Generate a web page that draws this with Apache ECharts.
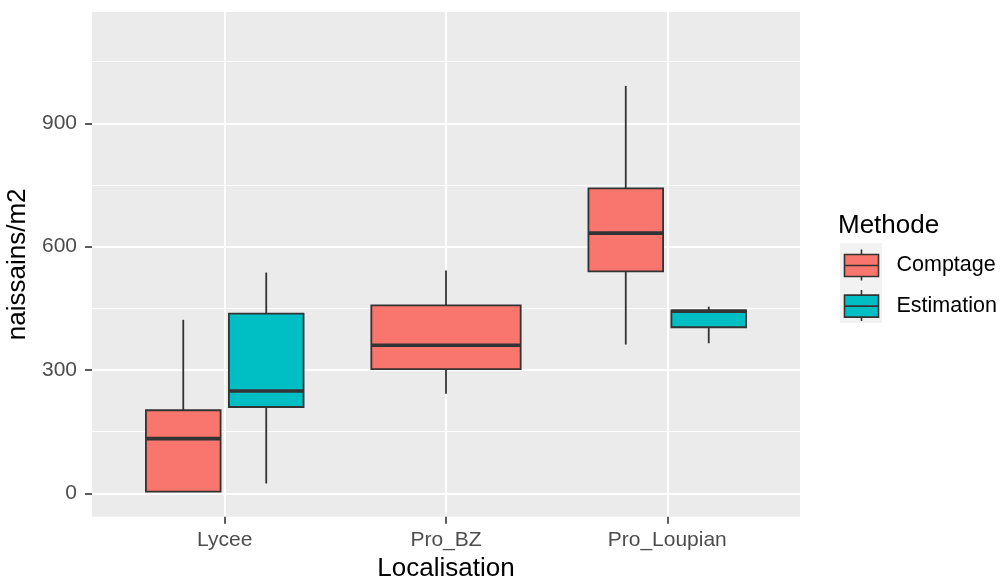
<!DOCTYPE html>
<html>
<head>
<meta charset="utf-8">
<script src="https://cdn.jsdelivr.net/npm/echarts@6/dist/echarts.min.js"></script>
<style>html,body{margin:0;padding:0;background:#fff;}#c{width:1003px;height:576px;}</style>
</head>
<body>
<div id="c"></div>
<script>
// ---- data ----
const categories = ['Lycee', 'Pro_BZ', 'Pro_Loupian'];
const seriesNames = ['Comptage', 'Estimation'];
// [min, q1, median, q3, max] per category (null = absent)
const comptage = [[4, 4, 133, 202, 422], [242, 302, 360, 457, 542], [362, 540, 633, 742, 991]];
const estimation = [[24, 210, 249, 437, 537], null, [365, 404, 443, 445, 454]];
const yTicks = [0, 300, 600, 900];
const yMinorTicks = [150, 450, 750, 1050];
const colors = ['#F8766D', '#00BFC4'];

const FONT = '"Liberation Sans", Arial, sans-serif';
const allSeries = [comptage, estimation];

// dodge slots from which groups are present per category
function buildData(sIdx) {
  const out = [];
  allSeries[sIdx].forEach((d, c) => {
    if (!d) return;
    const present = allSeries.map((s, i) => s[c] ? i : -1).filter(i => i >= 0);
    out.push([c + 1, d[0], d[1], d[2], d[3], d[4], present.indexOf(sIdx), present.length]);
  });
  return out;
}

function renderBox(params, api) {
  const x = api.value(0);
  const mn = api.value(1), q1 = api.value(2), md = api.value(3), q3 = api.value(4), mx = api.value(5);
  const slot = api.value(6), n = api.value(7);
  const total = 0.75, per = total / n, w = per * 0.9;
  const cx = x - total / 2 + per * (slot + 0.5);
  const pTop = api.coord([cx - w / 2, q3]);
  const pBot = api.coord([cx + w / 2, q1]);
  const pc = api.coord([cx, md]);
  const pMax = api.coord([cx, mx]);
  const pMin = api.coord([cx, mn]);
  const stroke = '#333333';
  const children = [];
  children.push({type: 'line', shape: {x1: pc[0], y1: pMax[1], x2: pc[0], y2: pTop[1]}, style: {stroke, lineWidth: 1.8}});
  children.push({type: 'line', shape: {x1: pc[0], y1: pBot[1], x2: pc[0], y2: pMin[1]}, style: {stroke, lineWidth: 1.8}});
  children.push({type: 'rect', shape: {x: pTop[0], y: pTop[1], width: pBot[0] - pTop[0], height: pBot[1] - pTop[1]},
    style: {fill: api.visual('color'), stroke, lineWidth: 1.8}});
  children.push({type: 'line', shape: {x1: pTop[0], y1: pc[1], x2: pBot[0], y2: pc[1]}, style: {stroke, lineWidth: 3.6}});
  return {type: 'group', children};
}

const iconPath = 'path://M0,5L34,5L34,27L0,27Z M0,16L34,16 M17,0L17,5 M17,27L17,31';

const chart = echarts.init(document.getElementById('c'), null, {renderer: 'canvas'});
chart.setOption({
  animation: false,
  backgroundColor: '#ffffff',
  textStyle: {fontFamily: FONT},
  grid: {left: 92, top: 12, width: 708, height: 504.7, show: true, backgroundColor: '#EBEBEB', borderWidth: 0,
    containLabel: false, outerBoundsMode: 'none'},
  title: {text: 'Methode', left: 838, top: 213, padding: 0,
    textStyle: {fontSize: 26, fontWeight: 'normal', color: '#000000', fontFamily: FONT}},
  graphic: [{type: 'rect', left: 840, top: 243, shape: {width: 42, height: 80}, style: {fill: '#F2F2F2'}, z: 0, silent: true}],
  legend: {
    orient: 'vertical', left: 843.7, top: 248.7, padding: 0,
    itemWidth: 34, itemHeight: 31, itemGap: 8, selectedMode: false,
    itemStyle: {borderColor: '#333333', borderWidth: 1.6},
    textStyle: {fontSize: 21.5, color: '#000000', fontFamily: FONT, padding: [0, 0, 0, 13]},
    data: seriesNames.map(n => ({name: n, icon: iconPath}))
  },
  xAxis: {
    type: 'value', min: 0.4, max: 3.6,
    axisLine: {show: false, onZero: false},
    axisTick: {show: true, customValues: [1, 2, 3], length: 7, lineStyle: {color: '#333333', width: 1.6}},
    axisLabel: {customValues: [1, 2, 3], formatter: v => categories[Math.round(v) - 1], fontSize: 21, color: '#4D4D4D', margin: 13, fontFamily: FONT},
    splitLine: {show: true, lineStyle: {color: '#FFFFFF', width: 2}},
    name: 'Localisation', nameLocation: 'middle', nameGap: 37,
    nameTextStyle: {fontSize: 26, color: '#000000', fontFamily: FONT}
  },
  yAxis: [{
    type: 'value', min: -56.9, max: 1170.8,
    axisLine: {show: false, onZero: false},
    axisTick: {show: true, customValues: yTicks, length: 7, lineStyle: {color: '#333333', width: 1.6}},
    axisLabel: {customValues: yTicks, fontSize: 21, color: '#4D4D4D', margin: 15, fontFamily: FONT},
    splitLine: {show: true, lineStyle: {color: '#FFFFFF', width: 2}},
    name: 'naissains/m2', nameLocation: 'middle', nameGap: 56,
    nameTextStyle: {fontSize: 26, color: '#000000', fontFamily: FONT}
  }, {
    type: 'value', min: -56.9, max: 1170.8, position: 'right',
    axisLine: {show: false, onZero: false},
    axisTick: {show: false, customValues: yMinorTicks},
    axisLabel: {show: false, customValues: yMinorTicks},
    splitLine: {show: true, lineStyle: {color: '#FFFFFF', width: 1}}
  }],
  series: seriesNames.map((name, i) => ({
    name, type: 'custom', xAxisIndex: 0, yAxisIndex: 0,
    itemStyle: {color: colors[i], borderColor: '#333333'},
    renderItem: renderBox,
    encode: {x: 0, y: [1, 2, 3, 4, 5]},
    data: buildData(i),
    z: 3
  }))
});
</script>
</body>
</html>
